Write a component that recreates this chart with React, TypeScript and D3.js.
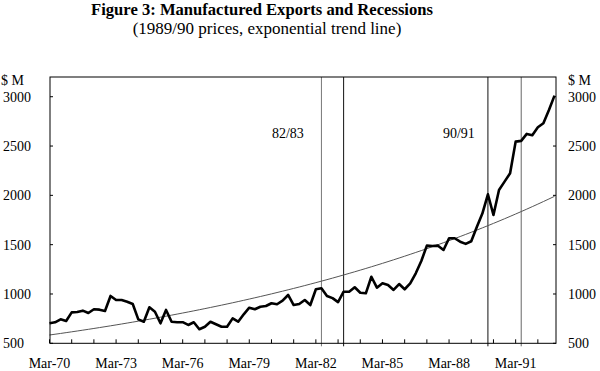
import React from "react";
import * as d3 from "d3";

// Quarterly manufactured exports ($M, 1989/90 prices), Mar-70 .. Dec-92
const exportsQ: number[] = [
  703, 713, 743, 726, 814, 817, 831, 807, 845, 841,
  828, 980, 939, 939, 922, 899, 743, 719, 865, 820,
  703, 838, 718, 713, 714, 686, 713, 642, 668, 719,
  693, 668, 668, 753, 719, 794, 861, 845, 871, 878,
  906, 896, 932, 990, 888, 899, 939, 888, 1048, 1058,
  980, 958, 918, 1023, 1023, 1068, 1013, 1007, 1175, 1064,
  1108, 1091, 1041, 1101, 1048, 1108, 1210, 1335, 1490, 1487,
  1490, 1446, 1565, 1565, 1530, 1508, 1535, 1680, 1815, 2011,
  1801, 2054, 2139, 2224, 2545, 2552, 2623, 2609, 2690, 2731,
  2866, 3011,
];
const startYear = 1970;
const monthNames = ["Mar", "Jun", "Sep", "Dec"];
const quarters: string[] = exportsQ.map((_, i) => {
  const y = startYear + Math.floor(i / 4);
  return `${monthNames[i % 4]}-${String(y).slice(2)}`;
});
const xLabels: string[] = ["Mar-70", "Mar-73", "Mar-76", "Mar-79", "Mar-82", "Mar-85", "Mar-88", "Mar-91"];
const yTicks: number[] = [500, 1000, 1500, 2000, 2500, 3000];
// Recession markers (quarters) and their labels
const recessionLines: string[] = ["Jun-82", "Jun-83", "Dec-89", "Jun-91"];
const recessionColors: string[] = ["#777", "#111", "#111", "#666"];
const recessionLabels: string[] = ["82/83", "90/91"];
const recessionLabelRef: string[] = ["Jun-82", "Dec-89"];
const recessionLabelShift: number[] = [-33.5, -29];
// Exponential trend end values
const trendStart = 584;
const trendEnd = 1990;

const W = 600, H = 371;
const L = 50, R = 556, T = 77, B = 343.3;
const font = "'Liberation Serif', 'Times New Roman', serif";

export default function App() {
  const x = d3.scaleLinear().domain([0, exportsQ.length - 1]).range([49.5, 554.5]);
  const y = d3.scaleLinear().domain([500, 3200]).range([B, T]);
  const idx = (q: string) => quarters.indexOf(q);

  const line = d3.line<number>().x((_, i) => x(i)).y((d) => y(d)).curve(d3.curveLinear);
  const n = exportsQ.length - 1;
  const b = Math.log(trendEnd / trendStart) / n;
  const trendVals = exportsQ.map((_, i) => trendStart * Math.exp(b * i));

  const tickIdx = quarters.map((q, i) => i).filter((i) => i % 4 === 0);

  return (
    <svg width={W} height={H} style={{ position: "absolute", left: 0, top: 0, background: "#fff" }} fontFamily={font}>
      <text x={262} y={15} textAnchor="middle" fontSize={16.6} fontWeight="bold">
        Figure 3: Manufactured Exports and Recessions
      </text>
      <text x={267} y={34} textAnchor="middle" fontSize={17}>
        (1989/90 prices, exponential trend line)
      </text>

      {/* recession lines */}
      {recessionLines.map((q, k) => (
        <line key={q} x1={x(idx(q))} x2={x(idx(q))} y1={T} y2={B + 3} stroke={recessionColors[k]} strokeWidth={1} />
      ))}
      {recessionLabels.map((r, k) => (
        <text key={r} x={x(idx(recessionLabelRef[k])) + recessionLabelShift[k]} y={138} textAnchor="middle" fontSize={14}>
          {r}
        </text>
      ))}

      {/* trend */}
      <path d={line(trendVals) || ""} fill="none" stroke="#555" strokeWidth={1} />
      {/* data */}
      <path d={line(exportsQ) || ""} fill="none" stroke="#000" strokeWidth={2.6} strokeLinejoin="round" />

      {/* frame */}
      <rect x={L} y={T} width={R - L} height={B - T} fill="none" stroke="#000" strokeWidth={1} />

      {/* y ticks */}
      {yTicks.map((v) => (
        <g key={v}>
          <line x1={L} x2={L + 3} y1={y(v)} y2={y(v)} stroke="#000" />
          <line x1={R - 3} x2={R} y1={y(v)} y2={y(v)} stroke="#000" />
          <text x={3} y={y(v) + 5} fontSize={14}>{v}</text>
          <text x={568} y={y(v) + 5} fontSize={14}>{v}</text>
        </g>
      ))}
      <text x={1} y={85} fontSize={14}>$ M</text>
      <text x={568} y={85} fontSize={14}>$ M</text>

      {/* x ticks */}
      {tickIdx.map((i) => (
        <line key={i} x1={x(i)} x2={x(i)} y1={B} y2={B - 4} stroke="#000" />
      ))}
      {xLabels.map((lab) => (
        <text key={lab} x={x(idx(lab))} y={368} textAnchor="middle" fontSize={14}>{lab}</text>
      ))}
    </svg>
  );
}
